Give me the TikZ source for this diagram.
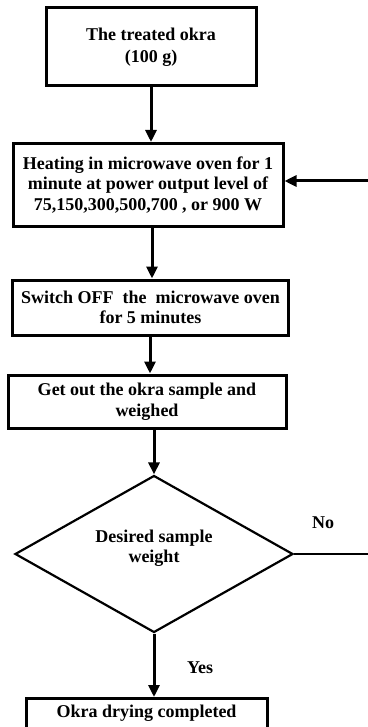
\documentclass[tikz,border=0pt]{standalone}
\usepackage{fontspec}
\setmainfont{Liberation Serif}
\usetikzlibrary{arrows.meta,shapes.geometric}
\tikzset{
  txt/.style={font=\bfseries\fontsize{18}{20.5}\selectfont},
  box/.style={draw, line width=3pt, inner sep=0pt, align=center, txt},
  dec/.style={draw, diamond, line width=2.2pt, inner sep=0pt, aspect=1.77,
    minimum width=278pt, minimum height=157pt},
  arr/.style={line width=3pt, -{Triangle[width=11pt,length=12pt]}},
  lbl/.style={txt, align=center}
}
\begin{document}
\begin{tikzpicture}[x=1pt,y=-1pt]
\useasboundingbox (0,0) rectangle (367,727);
\node[box, minimum width=210pt, minimum height=78pt,
  font=\bfseries\fontsize{18}{22}\selectfont] (b1) at (151,47)
  {The treated okra\\(100 g)};
\node[box, minimum width=270pt, minimum height=83pt] (b2) at (148,185)
  {Heating in microwave oven for 1\\minute at power output level of\\75,150,300,500,700 , or 900 W};
\node[box, minimum width=276pt, minimum height=55pt] (b3) at (150.5,307.5)
  {Switch OFF \ the \ microwave oven\\for 5 minutes};
\node[box, minimum width=278pt, minimum height=53pt] (b4) at (147,401.5)
  {Get out the okra sample and\\weighed};
\node[dec] (d) at (154,554) {};
\node[lbl, yshift=6pt] (dt) at (d.center) {Desired sample\\weight};
\node[box, anchor=north, minimum width=241pt, text height=19pt, text depth=19pt]
  (b5) at (146.5,697) {Okra drying completed};
\node[lbl] (no) at (323,523) {No};
\node[lbl] (yes) at (200,668) {Yes};
\coordinate (c1) at (372,554);
\coordinate (c2) at (372,181);
\draw[arr] (b1.south -| 151,0) -- (151,0 |- b2.north);
\draw[arr] (b2.south -| 152,0) -- (152,0 |- b3.north);
\draw[arr] (b3.south -| 150,0) -- (150,0 |- b4.north);
\draw[arr] (b4.south -| 154,0) -- (d.north);
\draw[arr] (d.south) -- (d.south |- b5.north);
\draw[line width=2.5pt] (d.east) -- (c1) -- (c2);
\draw[arr] (c2) -- (c2 -| b2.east);
\end{tikzpicture}
\end{document}
